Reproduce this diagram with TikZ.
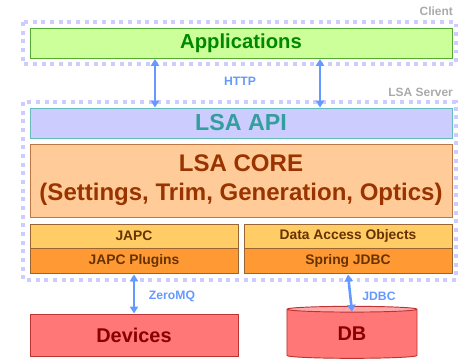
\documentclass[tikz,border=0pt]{standalone}
\usepackage{fontspec}
\setmainfont{Liberation Sans}
\usepackage{tikz}
\usetikzlibrary{positioning, shapes.geometric, arrows.meta}
\definecolor{lsaZone}{HTML}{CCCCFF}
\definecolor{lsaGrey}{HTML}{AAAAAA}
\definecolor{lsaLink}{HTML}{6699FF}
\definecolor{appFill}{HTML}{CCFF99}
\definecolor{appLine}{HTML}{55AA33}
\definecolor{appText}{HTML}{008800}
\definecolor{apiFill}{HTML}{CCCCFF}
\definecolor{apiLine}{HTML}{66BBBB}
\definecolor{apiText}{HTML}{339E9E}
\definecolor{coreFill}{HTML}{FFCC99}
\definecolor{coreLine}{HTML}{BB7744}
\definecolor{coreText}{HTML}{993300}
\definecolor{upperFill}{HTML}{FFCC66}
\definecolor{lowerFill}{HTML}{FF9933}
\definecolor{libLine}{HTML}{996633}
\definecolor{libText}{HTML}{663300}
\definecolor{extFill}{HTML}{FF7777}
\definecolor{extTop}{HTML}{FFAAAA}
\definecolor{extLine}{HTML}{BB3333}
\definecolor{extText}{HTML}{880000}
\tikzset{
  layer/.style={
    rectangle, draw=#1, line width=0.8pt,
    inner sep=0pt,
    align=center
  },
  zone/.style={
    lsaZone, line width=3.4pt,
    dash pattern=on 3.4pt off 4pt
  },
  link/.style={
    {Triangle[length=6pt, width=7pt]}-{Triangle[length=6pt, width=7pt]},
    lsaLink, line width=2.2pt
  },
  linklabel/.style={font=\fontsize{10.4}{12}\selectfont\bfseries, lsaLink},
  zonelabel/.style={font=\fontsize{10.2}{12}\selectfont\bfseries, lsaGrey, anchor=east}
}

\begin{document}
\begin{tikzpicture}[x=0.03cm, y=-0.03cm]
  \useasboundingbox (0,0) rectangle (464,361);

  % client and server zones
  \draw[zone] (23,22) rectangle (456,64);
  \draw[zone] (23,102) rectangle (456,280);
  \node[zonelabel] (client) at (457,11) {Client};
  \node[zonelabel] (server) at (457,92) {LSA Server};

  \node[layer=appLine, fill=appFill, text=appText, minimum width=12.66cm, minimum height=0.9cm,
        font=\fontsize{17.3}{20}\selectfont\bfseries] (app) at (241,43.5) {Applications};
  \node[layer=apiLine, fill=apiFill, text=apiText, minimum width=12.66cm, minimum height=0.9cm,
        font=\fontsize{19.8}{23}\selectfont\bfseries] (api) at (241,123) {LSA API};
  \node[layer=coreLine, fill=coreFill, text=coreText, minimum width=12.66cm, minimum height=2.19cm,
        font=\fontsize{20.5}{25}\selectfont\bfseries] (core) at (241,180.5) {LSA CORE\\(Settings, Trim, Generation, Optics)};

  % libraries
  \node[layer=libLine, fill=upperFill, text=libText, minimum width=6.24cm, minimum height=0.72cm,
        font=\fontsize{11.8}{14}\selectfont\bfseries] (japc) at (134,236) {JAPC};
  \node[layer=libLine, fill=lowerFill, text=libText, minimum width=6.24cm, minimum height=0.75cm,
        font=\fontsize{11.8}{14}\selectfont\bfseries, below=0pt of japc] (plugins) {JAPC Plugins};
  \node[layer=libLine, fill=upperFill, text=libText, minimum width=6.24cm, minimum height=0.72cm,
        font=\fontsize{11.8}{14}\selectfont\bfseries] (dao) at (348,236) {Data Access Objects};
  \node[layer=libLine, fill=lowerFill, text=libText, minimum width=6.24cm, minimum height=0.75cm,
        font=\fontsize{11.8}{14}\selectfont\bfseries, below=0pt of dao] (jdbc) {Spring JDBC};

  % external systems
  \node[layer=extLine, fill=extFill, text=extText, minimum width=6.24cm, minimum height=1.26cm,
        font=\fontsize{17}{20}\selectfont\bfseries] (devices) at (134,335) {Devices};
  \node[cylinder, shape border rotate=90, draw=extLine, line width=0.8pt, aspect=0.2,
        cylinder uses custom fill, cylinder body fill=extFill, cylinder end fill=extTop,
        minimum width=3.9cm, minimum height=1.56cm, inner sep=0pt, text=extText,
        font=\fontsize{17}{20}\selectfont\bfseries] (db) at (352,334) {DB};

  \draw[link] ([xshift=-2.58cm]app.south) -- ([xshift=-2.58cm]api.north);
  \draw[link] ([xshift=2.37cm]app.south) -- ([xshift=2.37cm]api.north);
  \draw[link] (plugins.south) -- (devices.north);
  \draw[link] (jdbc.south) -- ([yshift=-0.18cm]db.north);

  \node[linklabel] (http) at (240,81) {HTTP};
  \node[linklabel] (zmq) at (172,296) {ZeroMQ};
  \node[linklabel] (jdbclabel) at (379,296) {JDBC};
\end{tikzpicture}
\end{document}
